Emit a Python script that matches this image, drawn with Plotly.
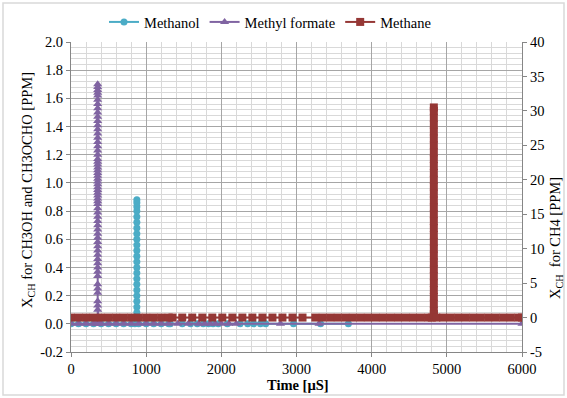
import plotly.graph_objects as go

# ---------------- data ----------------
# Methanol (left axis, ppm)
meoh_time = [0, 100, 200, 300, 400, 500, 600, 700, 800, 850,
             876, 876, 876, 876, 876, 876, 876, 876, 876, 876, 876, 876,
             876, 876, 876, 876, 876, 876, 876, 876, 876, 876, 876, 876,
             900, 1000, 1100, 1200, 1300, 1320, 1480, 1590, 1680, 1760, 1830,
             1890, 1960, 2080, 2250, 2350, 2430, 2520, 2590, 2960, 3320, 3690]
meoh_vals = [0, 0, 0, 0, 0, 0, 0, 0, 0, 0,
             0.04, 0.12, 0.20, 0.28, 0.36, 0.44, 0.52, 0.60, 0.68, 0.76, 0.83, 0.88,
             0.86, 0.80, 0.72, 0.64, 0.56, 0.48, 0.40, 0.32, 0.24, 0.16, 0.08, 0.02,
             0, 0, 0, 0, 0, 0, 0, 0, 0, 0, 0,
             0, 0, 0, 0, 0, 0, 0, 0, 0, 0, 0]

# Methyl formate (left axis, ppm)
mf_time = [0, 100, 200, 300, 340,
           355, 355, 355, 355, 355, 355, 355, 355, 355, 355,
           355, 355, 355, 355, 355, 355, 355, 355, 355, 355,
           355, 355, 355, 355, 355, 355, 355, 355, 355, 355,
           355, 355, 355, 355, 355, 355, 355, 355, 355, 355,
           355, 355, 355, 355, 355, 355, 355, 355, 355, 355,
           355, 355, 355, 355, 355, 355, 355, 355, 355, 355,
           370, 400, 500, 600, 700, 800, 900, 1000, 1100, 1200, 1300,
           1420, 1560, 1700, 1780, 1850, 1920, 2000, 2100, 2200, 2787, 3300, 6000]
mf_vals = [0, 0, 0, 0, 0,
           0.04, 0.10, 0.16, 0.22, 0.28, 0.34, 0.40, 0.46, 0.52, 0.58,
           0.64, 0.70, 0.76, 0.82, 0.87, 0.91, 0.95, 0.99, 1.03, 1.07,
           1.11, 1.15, 1.20, 1.26, 1.32, 1.38, 1.44, 1.50, 1.56, 1.62,
           1.66, 1.70, 1.68, 1.64, 1.59, 1.53, 1.47, 1.41, 1.35, 1.29,
           1.23, 1.17, 1.13, 1.09, 1.05, 1.01, 0.97, 0.93, 0.89, 0.85,
           0.79, 0.73, 0.67, 0.61, 0.55, 0.49, 0.43, 0.37, 0.25, 0.13,
           0, 0, 0, 0, 0, 0, 0, 0, 0, 0, 0,
           0, 0, 0, 0, 0, 0, 0, 0, 0, 0, 0, 0]

# Methane (right axis, ppm)
ch4_time = [0, 100, 200, 300, 400, 500, 600, 700, 800, 900, 1000, 1100, 1200, 1300, 1350,
            1480, 1613, 1747, 1880, 2013, 2147, 2280, 2413, 2547, 2680, 2813, 2947, 3080,
            3250, 3350, 3450, 3550, 3650, 3750, 3850, 3950, 4050, 4150, 4250, 4350,
            4450, 4550, 4650, 4750, 4800,
            4827, 4827, 4827, 4827, 4827, 4827, 4827, 4827, 4827, 4827, 4827,
            4827, 4827, 4827, 4827, 4827, 4827, 4827, 4827, 4827, 4827, 4827,
            4827, 4827, 4827, 4827, 4827, 4827, 4827, 4827, 4827, 4827,
            4860, 4950, 5050, 5150, 5250, 5350, 5450, 5550, 5650, 5750, 5850, 5950, 6000]
ch4_vals = [0, 0, 0, 0, 0, 0, 0, 0, 0, 0, 0, 0, 0, 0, 0,
            0, 0, 0, 0, 0, 0, 0, 0, 0, 0, 0, 0, 0,
            0, 0, 0, 0, 0, 0, 0, 0, 0, 0, 0, 0,
            0, 0, 0, 0, 0,
            1.0, 3.0, 5.0, 7.0, 9.0, 11.0, 13.0, 15.0, 17.0, 19.0, 21.0,
            23.0, 25.0, 27.0, 29.0, 30.5, 30.0, 28.0, 26.0, 24.0, 22.0, 20.0,
            18.0, 16.0, 14.0, 12.0, 10.0, 8.0, 6.0, 4.0, 2.0, 0.5,
            0, 0, 0, 0, 0, 0, 0, 0, 0, 0, 0, 0, 0]

series_names = ["Methanol", "Methyl formate", "Methane"]
x_ticks = [0, 1000, 2000, 3000, 4000, 5000, 6000]
y_ticks = [-0.2, 0.0, 0.2, 0.4, 0.6, 0.8, 1.0, 1.2, 1.4, 1.6, 1.8, 2.0]
y_ticktext = ["-0.2", "0.0", "0.2", "0.4", "0.6", "0.8", "1.0", "1.2", "1.4", "1.6", "1.8", "2.0"]
y2_ticks = [-5, 0, 5, 10, 15, 20, 25, 30, 35, 40]
y2_ticktext = ["-5", "0", "5", "10", "15", "20", "25", "30", "35", "40"]

# ---------------- figure ----------------
FONT = "Times New Roman, Liberation Serif, DejaVu Serif, serif"
FS = 14.5
C_MEOH = "#4BACC6"
C_MF = "#8064A2"
C_CH4 = "#953735"
AX = "#868686"

fig = go.Figure()
fig.add_trace(go.Scatter(x=meoh_time, y=meoh_vals, name=series_names[0], mode="lines+markers",
                         line=dict(color=C_MEOH, width=2),
                         marker=dict(symbol="circle", size=7, color=C_MEOH)))
fig.add_trace(go.Scatter(x=mf_time, y=mf_vals, name=series_names[1], mode="lines+markers",
                         line=dict(color=C_MF, width=2),
                         marker=dict(symbol="triangle-up", size=8, color=C_MF)))
fig.add_trace(go.Scatter(x=ch4_time, y=ch4_vals, name=series_names[2], mode="lines+markers",
                         yaxis="y2",
                         line=dict(color=C_CH4, width=2),
                         marker=dict(symbol="square", size=8, color=C_CH4)))

W, H = 567, 398
ML, MR, MT, MB = 71, 45, 42, 46
pw, ph = W - ML - MR, H - MT - MB

def px_x(p):
    return (p - ML) / pw

def px_y(p):
    return (H - MB - p) / ph

tickfont = dict(family=FONT, size=FS, color="black")

fig.update_layout(
    width=W, height=H,
    margin=dict(l=ML, r=MR, t=MT, b=MB, autoexpand=False),
    paper_bgcolor="white", plot_bgcolor="white",
    font=dict(family=FONT, size=FS, color="black"),
    showlegend=True,
    legend=dict(orientation="h", x=px_x(270), xanchor="center", y=px_y(22), yanchor="middle",
                font=dict(family=FONT, size=FS), itemwidth=30, tracegroupgap=0,
                bgcolor="rgba(0,0,0,0)"),
    xaxis=dict(range=[0, 6000], tickvals=x_ticks, ticktext=[str(v) for v in x_ticks],
               tickfont=tickfont, automargin=False,
               showgrid=True, gridcolor="#a6a6a6", gridwidth=1,
               minor=dict(dtick=200, showgrid=True, gridcolor="#d9d9d9", gridwidth=1),
               showline=True, linecolor=AX, linewidth=1,
               ticks="outside", ticklen=4, tickcolor=AX,
               zeroline=False),
    yaxis=dict(range=[-0.2, 2.0], tickvals=y_ticks, ticktext=y_ticktext,
               tickfont=tickfont, automargin=False,
               showgrid=True, gridcolor="#a6a6a6", gridwidth=1,
               minor=dict(dtick=0.04, tick0=0, showgrid=True, gridcolor="#d9d9d9", gridwidth=1),
               showline=True, linecolor=AX, linewidth=1,
               ticks="outside", ticklen=4, tickcolor=AX,
               zeroline=False),
    yaxis2=dict(range=[-5, 40], tickvals=y2_ticks, ticktext=y2_ticktext,
                tickfont=tickfont, automargin=False,
                overlaying="y", side="right",
                showgrid=False, zeroline=False,
                showline=True, linecolor=AX, linewidth=1,
                ticks="outside", ticklen=4, tickcolor=AX),
)

# axis titles as annotations for exact placement
fig.add_annotation(text="<b>Time [µS]</b>", xref="paper", yref="paper",
                   x=px_x(298), y=px_y(385), xanchor="center", yanchor="middle",
                   showarrow=False, font=dict(family=FONT, size=FS))
fig.add_annotation(text="X<sub>CH</sub> for CH3OH and CH3OCHO [PPM]", xref="paper", yref="paper",
                   x=px_x(28), y=px_y(190), xanchor="center", yanchor="middle", textangle=-90,
                   showarrow=False, font=dict(family=FONT, size=FS))
fig.add_annotation(text="X<sub>CH</sub>  for CH4 [PPM]", xref="paper", yref="paper",
                   x=px_x(556), y=px_y(238), xanchor="center", yanchor="middle", textangle=-90,
                   showarrow=False, font=dict(family=FONT, size=FS))

# light chart-area border
fig.add_shape(type="rect", xref="paper", yref="paper",
              x0=px_x(3), x1=px_x(564), y0=px_y(395), y1=px_y(3),
              line=dict(color="#d9d9d9", width=1.5), fillcolor="rgba(0,0,0,0)", layer="below")

fig.write_html("out.html", config={"displayModeBar": False},
               post_script="document.body.style.margin='0';document.body.style.overflow='hidden';")
